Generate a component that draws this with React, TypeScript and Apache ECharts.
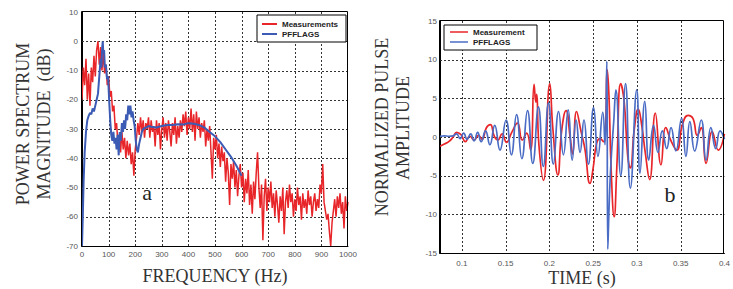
import React, { useEffect, useRef } from "react";
import * as echarts from "echarts";

// ---------- Panel (a): power spectrum ----------
const freqTicks = [100, 200, 300, 400, 500, 600, 700, 800, 900];
const dbTicks = [-60, -50, -40, -30, -20, -10, 0];

const spectrumMeasurement: [number, number][] = [
  [0, -20], [5, -9], [10, -15], [15, -6], [20, -20], [25, -11], [30, -22], [35, -9], [40, -14], [45, -5],
  [50, -12], [55, -3], [60, 0], [65, -8], [70, -2], [75, -10], [80, -4], [85, -11], [90, -8], [95, -15],
  [100, -12], [105, -19], [110, -17], [115, -24], [120, -22], [125, -30], [130, -28], [135, -35], [140, -32], [145, -38],
  [150, -31], [155, -37], [160, -33], [165, -40], [170, -34], [175, -39], [180, -35], [185, -42], [190, -38], [195, -46],
  [200, -37], [205, -33], [210, -28], [215, -32], [220, -26], [225, -31], [230, -27], [235, -33], [240, -28], [245, -30],
  [250, -26], [255, -33], [260, -27], [265, -31], [270, -29], [275, -36], [280, -27], [285, -32], [290, -28], [295, -37],
  [300, -30], [305, -26], [310, -33], [315, -28], [320, -34], [325, -27], [330, -31], [335, -36], [340, -28], [345, -32],
  [350, -26], [355, -35], [360, -29], [365, -33], [370, -27], [375, -31], [380, -25], [385, -29], [390, -24], [395, -32],
  [400, -26], [405, -30], [410, -23], [415, -31], [420, -25], [425, -34], [430, -24], [435, -30], [440, -26], [445, -33],
  [450, -28], [455, -31], [460, -27], [465, -36], [470, -30], [475, -34], [480, -29], [485, -38], [490, -47], [495, -33],
  [500, -37], [505, -32], [510, -40], [515, -35], [520, -43], [525, -36], [530, -41], [535, -38], [540, -48], [545, -40],
  [550, -45], [555, -56], [560, -42], [565, -47], [570, -41], [575, -50], [580, -44], [585, -53], [590, -46], [595, -42],
  [600, -50], [605, -45], [610, -55], [615, -47], [620, -52], [625, -44], [630, -56], [635, -49], [640, -59], [645, -48],
  [650, -54], [655, -45], [660, -38], [665, -50], [670, -57], [675, -49], [680, -68], [685, -53], [690, -47], [695, -58],
  [700, -50], [705, -55], [710, -48], [715, -57], [720, -52], [725, -60], [730, -51], [735, -56], [740, -62], [745, -53],
  [750, -58], [755, -50], [760, -66], [765, -55], [770, -51], [775, -57], [780, -49], [785, -55], [790, -52], [795, -60],
  [800, -54], [805, -58], [810, -50], [815, -56], [820, -53], [825, -61], [830, -52], [835, -57], [840, -54], [845, -59],
  [850, -51], [855, -56], [860, -53], [865, -60], [870, -55], [875, -52], [880, -58], [885, -54], [890, -57], [895, -49],
  [900, -52], [905, -42], [910, -55], [915, -58], [920, -61], [925, -59], [930, -65], [935, -70], [940, -62], [945, -58],
  [950, -54], [955, -60], [960, -53], [965, -57], [970, -52], [975, -59], [980, -55], [985, -64], [990, -53], [995, -58],
  [1000, -55],
];

const spectrumModel: [number, number][] = [
  [0, -70], [3, -60], [6, -48], [10, -38], [15, -31], [20, -27], [25, -25.5], [30, -24.5], [35, -25], [40, -23],
  [45, -24], [50, -22], [55, -20], [60, -18], [65, -12], [70, -6], [73, -9], [76, -2], [78, 0], [80, -4],
  [83, -3], [86, -9], [90, -8], [94, -13], [98, -12], [102, -20], [106, -27], [110, -32], [114, -34], [118, -31],
  [122, -35], [126, -33], [130, -37], [134, -32], [138, -39], [142, -31], [146, -34], [150, -28], [154, -31], [158, -27],
  [162, -30], [166, -25], [170, -27], [174, -22], [178, -25], [182, -22], [186, -26], [190, -24], [194, -27], [198, -29],
  [202, -34], [206, -37], [210, -38], [215, -35], [220, -33], [225, -31], [230, -30], [240, -29.5], [250, -29], [260, -29.2],
  [280, -29.5], [300, -29], [320, -28.6], [340, -28.6], [360, -28.4], [380, -28.5], [400, -28], [420, -28.2], [440, -28.6],
  [460, -29.5], [480, -31], [500, -32.5], [520, -34.5], [540, -37], [560, -39.5], [580, -42.5], [600, -46],
];

// ---------- Panel (b): normalized pulse ----------
const timeTicks = [0.1, 0.15, 0.2, 0.25, 0.3, 0.35, 0.4];
const ampTicks = [-10, -5, 0, 5, 10];

const pulseMeasurement: [number, number][] = [
  [0.075, -1.2], [0.08, -0.9], [0.085, -0.6], [0.09, 0.0], [0.094, 0.6], [0.099, 0.3], [0.104, -0.6], [0.109, 0.1],
  [0.114, -0.4], [0.119, 0.2], [0.123, -0.3], [0.128, 1.2], [0.1325, 1.6], [0.137, 0.1], [0.141, -0.4], [0.146, 0.4],
  [0.151, -0.7], [0.157, 0.6], [0.1635, 1.8], [0.169, -0.4], [0.174, 0.5], [0.1785, -1.7], [0.1825, 6.8], [0.1845, 4.5],
  [0.1855, 5.5], [0.188, -1.0], [0.1932, -5.6], [0.2004, 6.9], [0.204, 1.0], [0.2097, -4.9], [0.214, 0.8], [0.219, 3.4],
  [0.224, -0.3], [0.2265, -2.2], [0.231, 3.3], [0.236, 0.8], [0.2405, -1.5], [0.2464, -6.0], [0.25, -4.0], [0.254, -0.8],
  [0.258, -0.2], [0.262, -0.6], [0.264, 0.5], [0.266, 8.7], [0.268, 5.5], [0.2705, -4], [0.274, -10.3], [0.277, -4],
  [0.2815, 6.9], [0.2855, 4.5], [0.2895, -2.5], [0.2925, -4.0], [0.297, 1.0], [0.3015, 3.6], [0.3055, 1.5], [0.3095, -2.0],
  [0.3145, -5.5], [0.321, 3.1], [0.3275, -3.6], [0.333, 1.2], [0.339, -0.5], [0.3455, -1.7], [0.352, 1.6], [0.3585, 2.8],
  [0.364, 2.4], [0.369, 0.2], [0.3735, 1.2], [0.379, -3.4], [0.386, 0.7], [0.393, -1.7], [0.4, 0.4],
];

const pulseModel: [number, number][] = [
  [0.075, 0.1], [0.08, 0.15], [0.085, 0.1], [0.09, 0.15], [0.094, 0.4], [0.098, -0.2], [0.102, 0.5], [0.106, -0.3],
  [0.11, 0.4], [0.114, -0.5], [0.118, 0.6], [0.122, -0.6], [0.127, 0.8], [0.132, -1.0], [0.1375, 1.5], [0.1435, -1.7],
  [0.1505, 2.2], [0.1565, -2.3], [0.1625, 2.9], [0.1685, -2.8], [0.175, 3.4], [0.181, -3.4], [0.1875, 3.9], [0.193, -3.8],
  [0.199, 4.4], [0.2045, -3.5], [0.2105, 3.3], [0.216, -2.3], [0.2215, 3.5], [0.226, -3.0], [0.2305, 2.2], [0.235, -2.0],
  [0.2395, 2.2], [0.2445, -3.5], [0.2505, 3.8], [0.2555, -2.5], [0.261, 3.2], [0.2635, -1.0], [0.2656, 9.8], [0.2667, -14.5],
  [0.2685, -8], [0.2705, -3], [0.2735, 2], [0.276, 6.1], [0.2815, -5], [0.287, 6.9], [0.2925, -6.6], [0.2998, 6.1],
  [0.3035, -4.7], [0.309, 4.6], [0.3135, -3.0], [0.319, 1.5], [0.324, -2.0], [0.329, 0.8], [0.334, -1.5], [0.339, 1.2],
  [0.3445, -1.8], [0.351, 2.4], [0.356, -2.5], [0.3605, 2.0], [0.366, -1.8], [0.3735, 2.2], [0.379, -3.0], [0.3845, 1.2],
  [0.39, -1.5], [0.395, 0.8], [0.4, -0.3],
];

const RED = "#e8262a";
const BLUE_A = "#3b5bb5";
const BLUE_B = "#4a6cc4";
const SERIF = "'Liberation Serif', 'Times New Roman', serif";
const SANS = "'Liberation Sans', Arial, sans-serif";

export default function App() {
  const ref = useRef<HTMLDivElement>(null);

  useEffect(() => {
    if (!ref.current) return;
    const chart = echarts.init(ref.current, undefined, { renderer: "svg" });

    const axisLine = { show: true, onZero: false, lineStyle: { color: "#000", width: 1 } };
    const labelStyle = { color: "#555", fontSize: 8, fontFamily: SANS, formatter: (v: number) => String(v) };

    const baseGraphic: any[] = [
      // legend (a)
      { type: "rect", shape: { x: 257, y: 15, width: 89, height: 27 }, style: { fill: "#fff", stroke: "#000", lineWidth: 1 }, z: 100 },
      { type: "line", shape: { x1: 262, y1: 24, x2: 277, y2: 24 }, style: { stroke: RED, lineWidth: 2 }, z: 101 },
      { type: "line", shape: { x1: 262, y1: 34, x2: 277, y2: 34 }, style: { stroke: BLUE_A, lineWidth: 2 }, z: 101 },
      { type: "text", x: 282, y: 24, style: { text: "Measurements", fill: "#222", font: `bold 8px ${SANS}`, textVerticalAlign: "middle" }, z: 101 },
      { type: "text", x: 282, y: 34, style: { text: "PFFLAGS", fill: "#222", font: `bold 8px ${SANS}`, textVerticalAlign: "middle" }, z: 101 },
      // legend (b)
      { type: "rect", shape: { x: 444, y: 25, width: 93, height: 25 }, style: { fill: "#fff", stroke: "#000", lineWidth: 1 }, z: 100 },
      { type: "line", shape: { x1: 450, y1: 32, x2: 468, y2: 32 }, style: { stroke: RED, lineWidth: 1.5 }, z: 101 },
      { type: "line", shape: { x1: 450, y1: 42, x2: 468, y2: 42 }, style: { stroke: BLUE_B, lineWidth: 1.5 }, z: 101 },
      { type: "text", x: 473, y: 32, style: { text: "Measurement", fill: "#222", font: `bold 8px ${SANS}`, textVerticalAlign: "middle" }, z: 101 },
      { type: "text", x: 473, y: 42, style: { text: "PFFLAGS", fill: "#222", font: `bold 8px ${SANS}`, textVerticalAlign: "middle" }, z: 101 },
      // axis titles
      { type: "text", x: 215, y: 276, style: { text: "FREQUENCY (Hz)", fill: "#333", font: `18px ${SERIF}`, textAlign: "center", textVerticalAlign: "middle" } },
      { type: "text", x: 582, y: 278, style: { text: "TIME (s)", fill: "#333", font: `18px ${SERIF}`, textAlign: "center", textVerticalAlign: "middle" } },
      { type: "text", x: 23, y: 124, rotation: Math.PI / 2, style: { text: "POWER SPECTRUM", fill: "#333", font: `18px ${SERIF}`, textAlign: "center", textVerticalAlign: "middle" } },
      { type: "text", x: 44, y: 124, rotation: Math.PI / 2, style: { text: "MAGNITUDE  (dB)", fill: "#333", font: `18px ${SERIF}`, textAlign: "center", textVerticalAlign: "middle" } },
      { type: "text", x: 382, y: 127, rotation: Math.PI / 2, style: { text: "NORMALIZED PULSE", fill: "#333", font: `18px ${SERIF}`, textAlign: "center", textVerticalAlign: "middle" } },
      { type: "text", x: 403, y: 128, rotation: Math.PI / 2, style: { text: "AMPLITUDE", fill: "#333", font: `18px ${SERIF}`, textAlign: "center", textVerticalAlign: "middle" } },
      // panel letters
      { type: "text", x: 147, y: 192, style: { text: "a", fill: "#222", font: `22px ${SERIF}`, textAlign: "center", textVerticalAlign: "middle" }, z: 50 },
      { type: "text", x: 670, y: 194, style: { text: "b", fill: "#222", font: `22px ${SERIF}`, textAlign: "center", textVerticalAlign: "middle" }, z: 50 },
    ];

    const option: any = {
      animation: false,
      grid: [
        { left: 82, top: 12, width: 266, height: 234, show: false },
        { left: 440, top: 21, width: 294, height: 232, show: false },
      ],
      xAxis: [
        {
          gridIndex: 0, type: "value", min: 0, max: 1000, interval: 100,
          axisLine, axisTick: { show: false }, splitLine: { show: false },
          axisLabel: { ...labelStyle, margin: 4 },
        },
        {
          gridIndex: 1, type: "value", min: 0.075, max: 0.4,
          axisLine, splitLine: { show: false },
          axisTick: { show: false, customValues: timeTicks },
          axisLabel: { ...labelStyle, margin: 6, customValues: timeTicks },
        },
      ],
      yAxis: [
        {
          gridIndex: 0, type: "value", min: -70, max: 10, interval: 10,
          axisLine, axisTick: { show: false }, splitLine: { show: false },
          axisLabel: { ...labelStyle, margin: 4 },
        },
        {
          gridIndex: 1, type: "value", min: -15, max: 15, interval: 5,
          axisLine, axisTick: { show: false }, splitLine: { show: false },
          axisLabel: { ...labelStyle, margin: 3 },
        },
      ],
      series: [
        {
          name: "Measurements", type: "line", xAxisIndex: 0, yAxisIndex: 0, data: spectrumMeasurement, z: 3,
          showSymbol: false, lineStyle: { color: RED, width: 1.5 }, itemStyle: { color: RED },
        },
        {
          name: "PFFLAGS", type: "line", xAxisIndex: 0, yAxisIndex: 0, data: spectrumModel, z: 4,
          showSymbol: false, lineStyle: { color: BLUE_A, width: 2 }, itemStyle: { color: BLUE_A },
        },
        {
          name: "Measurement", type: "line", xAxisIndex: 1, yAxisIndex: 1, data: pulseMeasurement, z: 3,
          showSymbol: false, smooth: 0.5, lineStyle: { color: RED, width: 1.7 }, itemStyle: { color: RED },
        },
        {
          name: "PFFLAGS ", type: "line", xAxisIndex: 1, yAxisIndex: 1, data: pulseModel, z: 4,
          showSymbol: false, smooth: 0.5, lineStyle: { color: BLUE_B, width: 1.7 }, itemStyle: { color: BLUE_B },
        },
      ],
      graphic: baseGraphic,
    };

    chart.setOption(option);

    // grid lines and frames placed through the axes' own scales
    const snap = (v: number) => Math.round(v) + 0.5;
    const extra: any[] = [];
    const panels = [
      { xi: 0, yi: 0, xMin: 0, xMax: 1000, yMin: -70, yMax: 10, xs: freqTicks, ys: dbTicks },
      { xi: 1, yi: 1, xMin: 0.075, xMax: 0.4, yMin: -15, yMax: 15, xs: timeTicks.slice(0, -1), ys: ampTicks },
    ];
    panels.forEach((p) => {
      const px = (v: number) => Number(chart.convertToPixel({ xAxisIndex: p.xi } as any, v));
      const py = (v: number) => Number(chart.convertToPixel({ yAxisIndex: p.yi } as any, v));
      const x0 = px(p.xMin), x1 = px(p.xMax), y0 = py(p.yMin), y1 = py(p.yMax);
      const dash = { stroke: "#333", lineWidth: 1, lineDash: [2, 2] };
      p.xs.forEach((v) => {
        const x = snap(px(v));
        extra.push({ type: "line", silent: true, z: 2, shape: { x1: x, y1: y1, x2: x, y2: y0 }, style: { ...dash } });
      });
      p.ys.forEach((v) => {
        const y = snap(py(v));
        extra.push({ type: "line", silent: true, z: 2, shape: { x1: x0, y1: y, x2: x1, y2: y }, style: { ...dash } });
      });
      extra.push({
        type: "rect", silent: true, z: 90,
        shape: { x: snap(x0) - 1, y: snap(y1) - 1, width: Math.round(x1 - x0), height: Math.round(y0 - y1) + 1 },
        style: { fill: "none", stroke: "#000", lineWidth: 1 },
      });
    });
    chart.setOption({ graphic: [...baseGraphic, ...extra] });

    return () => chart.dispose();
  }, []);

  return (
    <div
      ref={ref}
      style={{ position: "fixed", left: 0, top: 0, width: 733, height: 289, background: "#fff" }}
    />
  );
}
